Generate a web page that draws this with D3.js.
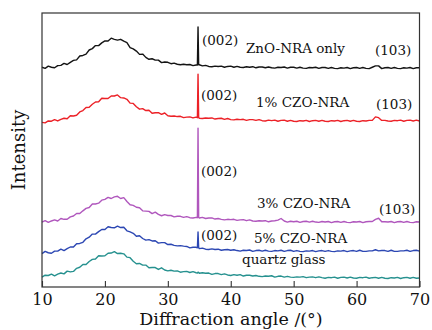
<!DOCTYPE html>
<html><head><meta charset="utf-8">
<script src="https://cdn.jsdelivr.net/npm/d3@7/dist/d3.min.js"></script>
<style>body{margin:0;background:#fff;}svg{display:block;}</style>
</head><body>
<svg id="chart" width="432" height="330"></svg>
<script>
// Sampling angles (2θ, degrees): 0.5° grid plus extra samples across the (002) peak
const gridLeft = d3.range(10, 34.51, 0.5);
const spikeAngles = [34.7, 34.8, 34.9];
const gridRight = d3.range(35, 70.01, 0.5);
const angles = gridLeft.concat(spikeAngles, gridRight);

const xTicks = [10, 20, 30, 40, 50, 60, 70];

const seriesNames = ["ZnO-NRA only", "1% CZO-NRA", "3% CZO-NRA", "5% CZO-NRA", "quartz glass"];

// Intensities (arbitrary units, curves stacked)
const zno = [
80.2,79.8,80.6,80.2,80.0,80.8,80.9,81.6,81.2,82.0,
82.7,82.9,84.3,84.5,85.0,86.5,87.0,88.1,88.1,89.1,
89.8,89.8,90.8,90.4,90.1,90.4,89.7,89.2,87.4,86.9,
86.1,84.9,85.0,83.8,83.1,83.3,82.8,82.8,81.9,82.1,
82.0,81.5,81.7,81.3,81.1,81.3,81.1,81.2,80.8,81.0,
81.0,94.9,81.1,
81.1,80.7,80.9,80.5,80.4,80.6,80.5,80.6,80.2,80.5,
80.6,80.2,80.5,80.2,80.1,80.4,80.2,80.4,80.0,80.3,
80.3,80.0,80.3,80.0,79.9,80.2,80.1,80.3,79.9,80.2,
80.2,79.9,80.2,79.9,79.8,80.1,80.0,80.2,79.8,80.1,
80.1,79.8,80.1,79.8,79.7,80.0,79.9,80.1,79.7,80.0,
80.1,79.8,80.1,79.8,79.7,80.2,80.7,80.7,79.7,80.0,
80.1,79.8,80.1,79.8,79.7,80.0,79.9,80.1,79.7,80.0,
80.0];
const czo1 = [
60.1,59.9,60.6,60.5,61.1,60.6,61.2,61.6,61.4,62.5,
62.4,62.7,63.9,64.4,65.5,65.6,66.7,67.5,67.6,68.9,
68.8,68.8,69.7,69.7,70.1,69.1,69.0,68.5,67.1,67.0,
65.8,64.9,65.1,64.4,64.5,63.4,63.6,63.6,63.0,63.5,
62.5,62.3,62.4,62.2,62.3,61.8,62.0,62.1,61.7,62.0,
61.8,77.7,61.9,
61.6,61.5,61.7,61.6,61.7,61.3,61.5,61.6,61.2,61.5,
61.1,61.0,61.2,61.1,61.2,60.8,61.1,61.1,60.8,61.1,
60.7,60.6,60.9,60.7,60.9,60.5,60.8,60.9,60.5,60.8,
60.5,60.4,60.7,60.6,60.8,60.4,60.7,60.8,60.5,60.8,
60.5,60.4,60.7,60.6,60.8,60.4,60.7,60.8,60.5,60.8,
60.5,60.4,60.7,60.6,60.8,60.8,62.1,61.8,60.8,60.8,
60.6,60.5,60.8,60.7,60.9,60.5,60.8,60.9,60.6,60.9,
60.6];
const czo3 = [
23.7,24.2,23.6,24.1,24.5,24.1,25.0,24.7,24.7,25.6,
25.9,26.8,26.8,27.8,28.7,29.0,30.3,30.3,30.6,31.7,
32.0,32.7,32.3,32.9,33.1,32.3,32.6,31.2,30.0,29.8,
29.1,28.9,27.8,27.7,27.6,26.8,27.3,26.5,26.0,26.4,
26.1,26.1,25.6,25.8,25.8,25.4,25.7,25.3,25.2,25.4,
25.3,58.0,25.4,
25.2,25.4,25.0,25.2,25.2,24.8,25.0,24.7,24.5,24.7,
24.6,24.7,24.3,24.5,24.6,24.2,24.5,24.1,24.0,24.2,
24.1,24.2,23.8,24.1,24.2,24.4,25.0,24.1,23.7,24.0,
23.8,24.0,23.6,23.9,24.0,23.7,24.0,23.7,23.6,23.9,
23.7,23.9,23.5,23.8,23.9,23.6,23.9,23.6,23.5,23.8,
23.7,23.9,23.5,23.8,23.9,23.9,24.7,25.1,23.8,23.8,
23.7,23.9,23.5,23.8,23.9,23.6,23.9,23.6,23.5,23.8,
23.7];
const czo5 = [
12.2,13.0,12.5,12.3,13.1,13.1,13.8,13.3,14.0,14.6,
14.6,15.8,15.9,16.3,17.6,18.2,19.3,19.3,20.2,21.0,
21.0,22.0,21.7,21.6,22.2,21.7,21.8,20.5,20.1,19.6,
18.5,18.7,17.7,17.1,17.3,16.8,16.9,16.0,16.2,16.2,
15.5,15.6,15.2,15.0,15.1,14.9,14.8,14.3,14.5,14.5,
14.3,20.1,14.4,
14.0,14.2,13.8,13.7,13.9,13.7,13.8,13.4,13.6,13.7,
13.4,13.6,13.3,13.1,13.4,13.3,13.5,13.0,13.3,13.4,
13.1,13.4,13.1,13.0,13.3,13.2,13.4,13.0,13.3,13.4,
13.0,13.3,13.0,12.9,13.2,13.1,13.3,12.9,13.2,13.3,
13.0,13.3,13.0,12.9,13.2,13.1,13.3,12.9,13.2,13.3,
13.0,13.4,13.0,13.0,13.2,13.2,13.6,13.2,13.3,13.3,
13.0,13.4,13.0,13.0,13.2,13.2,13.4,13.0,13.3,13.4,
13.1];
const quartz = [
3.6,4.3,4.2,4.7,4.1,4.7,5.1,4.8,5.8,5.5,
5.7,6.8,7.2,8.2,8.2,9.3,10.1,10.2,11.4,11.3,
11.4,12.3,12.4,12.9,12.2,12.3,12.1,10.9,10.7,9.4,
8.5,8.6,8.0,8.0,7.0,7.1,7.1,6.4,7.0,6.2,
5.9,6.1,5.8,5.9,5.4,5.6,5.7,5.3,5.6,5.2,
5.1,5.4,5.3,
5.0,5.2,5.0,5.1,4.6,4.9,4.9,4.5,4.8,4.4,
4.2,4.5,4.3,4.5,4.0,4.3,4.3,4.0,4.2,3.9,
3.8,4.0,3.9,4.1,3.6,3.9,4.0,3.6,3.9,3.6,
3.5,3.7,3.6,3.8,3.4,3.6,3.7,3.4,3.7,3.4,
3.2,3.5,3.4,3.6,3.2,3.5,3.6,3.3,3.6,3.3,
3.2,3.5,3.4,3.6,3.2,3.4,3.5,3.2,3.5,3.2,
3.1,3.4,3.3,3.5,3.1,3.4,3.5,3.2,3.5,3.2,
3.3];

const seriesValues = [zno, czo1, czo3, czo5, quartz];
const seriesColors = ["#141414", "#ec2127", "#b057bd", "#2c47b3", "#26918f"];

// Annotations: text with anchor in data units (angle, intensity)
const noteText  = ["(002)", "ZnO-NRA only", "(103)",
                   "(002)", "1% CZO-NRA", "(103)",
                   "(002)", "3% CZO-NRA", "(103)",
                   "(002)", "5% CZO-NRA",
                   "quartz glass"];
const noteAngle = [35.43, 42.42, 62.93, 35.27, 44.01, 63.09, 35.27, 44.17, 63.56, 35.27, 43.70, 41.79];
const noteIntensity = [88.3, 85.4, 84.7, 68.2, 65.7, 65.0, 40.5, 28.8, 26.6, 17.2, 16.1, 8.4];

const svg = d3.select("#chart");
const M = {left: 42, right: 12.5, top: 13, bottom: 43};
const W = 432, H = 330;
const x = d3.scaleLinear().domain([10, 70]).range([M.left, W - M.right]);
const y = d3.scaleLinear().domain([0, 100]).range([H - M.bottom, M.top]);

const serif = "'DejaVu Serif', serif";

// lines
const line = d3.line().x((d, i) => x(angles[i])).y(d => y(d));
const plot = svg.append("g");
seriesValues.forEach((vals, k) => {
  plot.append("path").datum(vals)
    .attr("d", line)
    .attr("fill", "none")
    .attr("stroke", seriesColors[k])
    .attr("stroke-width", 1.4)
    .attr("stroke-linejoin", "round");
});

// frame
svg.append("rect")
  .attr("x", M.left).attr("y", M.top)
  .attr("width", W - M.right - M.left).attr("height", H - M.bottom - M.top)
  .attr("fill", "none").attr("stroke", "#333").attr("stroke-width", 1.2);

// bottom axis with inward ticks
const xAxis = d3.axisBottom(x).tickValues(xTicks).tickSizeInner(-6).tickSizeOuter(0).tickPadding(7);
const gx = svg.append("g").attr("transform", `translate(0,${H - M.bottom})`).call(xAxis);
gx.select(".domain").remove();
gx.selectAll(".tick line").attr("stroke", "#333").attr("stroke-width", 1.1);
gx.selectAll(".tick text").attr("font-family", serif).attr("font-size", 16).attr("fill", "#111");

// axis titles
svg.append("text")
  .attr("x", 231).attr("y", 325)
  .attr("text-anchor", "middle")
  .attr("font-family", serif).attr("font-size", 17.5).attr("fill", "#111")
  .text("Diffraction angle /(°)");
svg.append("text")
  .attr("transform", `translate(25,${(M.top + H - M.bottom) / 2}) rotate(-90)`)
  .attr("text-anchor", "middle")
  .attr("font-family", serif).attr("font-size", 18).attr("fill", "#111")
  .text("Intensity");

// annotations
svg.append("g").selectAll("text").data(noteText).join("text")
  .attr("x", (d, i) => x(noteAngle[i]))
  .attr("y", (d, i) => y(noteIntensity[i]))
  .attr("font-family", serif).attr("font-size", 13.5).attr("fill", "#111")
  .text(d => d);
</script>
</body></html>
